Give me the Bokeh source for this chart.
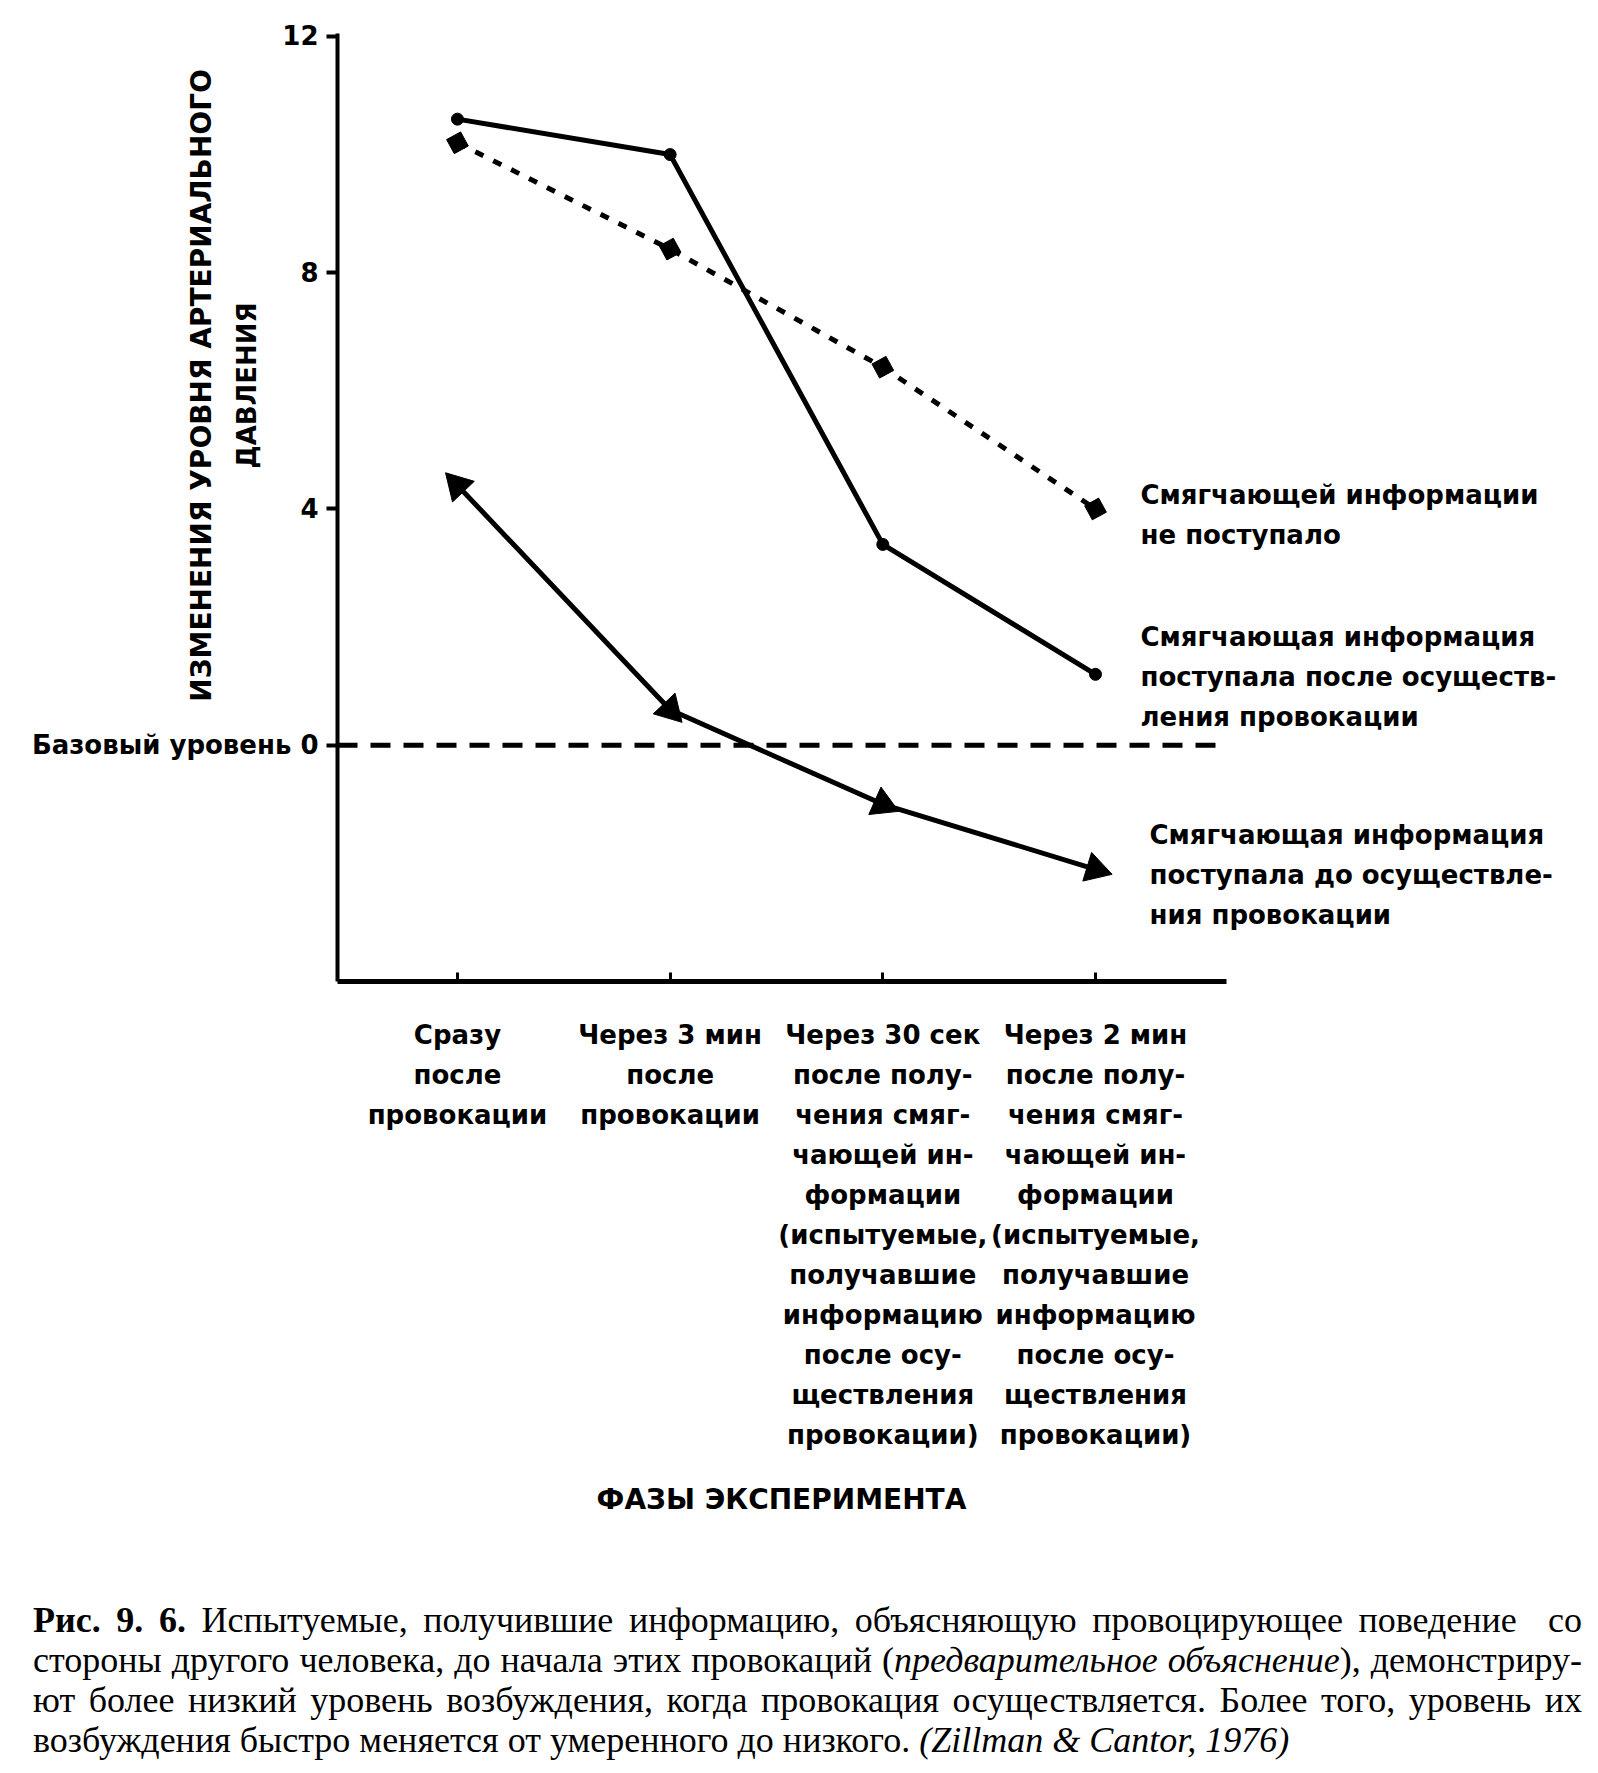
import math
from bokeh.plotting import figure
from bokeh.models import Label, FixedTicker, Div
from bokeh.layouts import column
from bokeh.embed import file_html
from bokeh.resources import INLINE

# ---------------- data ----------------
phase_x = [1, 2, 3, 4]
phase_labels = [
    "Сразу\nпосле\nпровокации",
    "Через 3 мин\nпосле\nпровокации",
    "Через 30 сек\nпосле полу-\nчения смяг-\nчающей ин-\nформации\n(испытуемые,\nполучавшие\nинформацию\nпосле осу-\nществления\nпровокации)",
    "Через 2 мин\nпосле полу-\nчения смяг-\nчающей ин-\nформации\n(испытуемые,\nполучавшие\nинформацию\nпосле осу-\nществления\nпровокации)",
]
no_info = [10.2, 8.4, 6.4, 4.0]          # dotted, diamonds
info_after = [10.6, 10.0, 3.4, 1.2]      # solid, circles
info_before = [4.4, 0.6, -1.0, -2.1]     # solid, triangles
y_ticks = [0, 4, 8, 12]
y_tick_labels = {0: "Базовый уровень 0", 4: "4", 8: "8", 12: "12"}
y_title = ["ИЗМЕНЕНИЯ УРОВНЯ АРТЕРИАЛЬНОГО", "ДАВЛЕНИЯ"]
x_title = "ФАЗЫ ЭКСПЕРИМЕНТА"
series_text = [
    ["Смягчающей информации", "не поступало"],
    ["Смягчающая информация", "поступала после осуществ-", "ления провокации"],
    ["Смягчающая информация", "поступала до осуществле-", "ния провокации"],
]
caption_lines = [
    ("<b>Рис. 9. 6.</b> Испытуемые, получившие информацию, объясняющую провоцирующее поведение&nbsp; со", True),
    ("стороны другого человека, до начала этих провокаций (<i>предварительное объяснение</i>), демонстриру-", True),
    ("ют более низкий уровень возбуждения, когда провокация осуществляется. Более того, уровень их", True),
    ("возбуждения быстро меняется от умеренного до низкого. <i>(Zillman &amp; Cantor, 1976)</i>", False),
]

# ---------------- geometry (page pixels) ----------------
W, H = 1590, 1590
AX_L, AX_R, AX_T, AX_B = 337, 1226, 33, 981     # axis box in page px
X0, X1 = 0.436, 4.616                           # x extent of axes
Y0, Y1 = -4.0, 12.05                            # y extent of axes
kx = (AX_R - AX_L) / (X1 - X0)
ky = (AX_B - AX_T) / (Y1 - Y0)
XR = (X0 - AX_L / kx, X0 + (W - AX_L) / kx)
YR = (Y1 - (H - AX_T) / ky, Y1 + AX_T / ky)


def dx(px):
    return X0 + (px - AX_L) / kx


def dy(py):
    return Y1 - (py - AX_T) / ky


SANS = "DejaVu Sans"

p = figure(width=W, height=H, x_range=XR, y_range=YR,
           output_backend="svg", toolbar_location=None,
           min_border_left=0, min_border_right=0,
           min_border_top=0, min_border_bottom=0)
p.outline_line_color = None
p.grid.visible = False
p.background_fill_color = "white"
p.border_fill_color = "white"

# y axis
ya = p.yaxis[0]
ya.fixed_location = X0
ya.bounds = (Y0, Y1)
ya.ticker = FixedTicker(ticks=y_ticks)
ya.major_label_overrides = y_tick_labels
ya.axis_line_width = 4
ya.axis_line_color = "black"
ya.major_tick_line_width = 4
ya.major_tick_out = 11
ya.major_tick_in = 0
ya.minor_tick_line_color = None
ya.major_label_standoff = 8
ya.major_label_text_font = SANS
ya.major_label_text_font_style = "bold"
ya.major_label_text_font_size = "26px"
ya.major_label_text_color = "black"

# x axis
xa = p.xaxis[0]
xa.fixed_location = Y0
xa.bounds = (X0, X1)
xa.ticker = FixedTicker(ticks=phase_x)
xa.major_label_overrides = {x: lab for x, lab in zip(phase_x, phase_labels)}
xa.axis_line_width = 5
xa.axis_line_color = "black"
xa.major_tick_line_width = 3
xa.major_tick_in = 9
xa.major_tick_out = 0
xa.minor_tick_line_color = None
xa.major_label_standoff = 38
xa.major_label_text_font = SANS
xa.major_label_text_font_style = "bold"
xa.major_label_text_font_size = "26px"
xa.major_label_text_line_height = 1.335
xa.major_label_text_color = "black"

# baseline (zero level)
p.segment(x0=[X0], y0=[0], x1=[X1], y1=[0], line_color="black",
          line_width=5, line_dash="20 13")

# series
p.line(phase_x, no_info, line_color="black", line_width=5, line_dash="9 11")
p.scatter(phase_x, no_info, marker="square", size=16, angle=0.5,
          fill_color="black", line_color="black")

p.line(phase_x, info_after, line_color="black", line_width=5)
p.scatter(phase_x, info_after, marker="circle", size=12,
          fill_color="black", line_color="black")

tri_angles = []
for i in range(len(phase_x)):
    if i == 0:
        ddx = phase_x[0] - phase_x[1]
        ddy = info_before[0] - info_before[1]
    else:
        ddx = phase_x[i] - phase_x[i - 1]
        ddy = info_before[i] - info_before[i - 1]
    theta = math.atan2(ddy * ky, ddx * kx)
    tri_angles.append(theta - math.pi / 2)

p.line(phase_x, info_before, line_color="black", line_width=5)
p.scatter(phase_x, info_before, marker="triangle", size=30, angle=tri_angles,
          fill_color="black", line_color="black")

# y title (rotated, two lines)
for txt, px, fs in zip(y_title, [201, 246], ["28px", "26px"]):
    p.add_layout(Label(x=dx(px), y=dy(385), text=txt, angle=math.pi / 2,
                       text_align="center", text_baseline="middle",
                       text_font=SANS, text_font_style="bold",
                       text_font_size=fs, text_color="black"))

# x title
p.add_layout(Label(x=dx(781), y=dy(1499), text=x_title,
                   text_align="center", text_baseline="middle",
                   text_font=SANS, text_font_style="bold",
                   text_font_size="28px", text_color="black"))

# series labels
label_pos = [(1140, [494, 534]), (1140, [636, 676, 716]), (1149, [834, 874, 914])]
for lines, (px, pys) in zip(series_text, label_pos):
    for txt, py in zip(lines, pys):
        p.add_layout(Label(x=dx(px), y=dy(py), text=txt,
                           text_align="left", text_baseline="middle",
                           text_font=SANS, text_font_style="bold",
                           text_font_size="26px", text_color="black"))

# caption
rows = []
for html, just in caption_lines:
    if just:
        rows.append('<div style="text-align:justify;text-align-last:justify;white-space:nowrap;">%s</div>' % html)
    else:
        rows.append('<div style="text-align:left;white-space:nowrap;">%s</div>' % html)
caption_html = ('<div style="font-family:\'Liberation Serif\';font-size:36px;line-height:40px;'
                'color:black;width:1549px;margin-left:28px;margin-top:5px;">%s</div>' % "".join(rows))
cap = Div(text=caption_html, width=W, height=175)

layout = column(p, cap, spacing=0)
open("out.html", "w").write(file_html(layout, INLINE))
